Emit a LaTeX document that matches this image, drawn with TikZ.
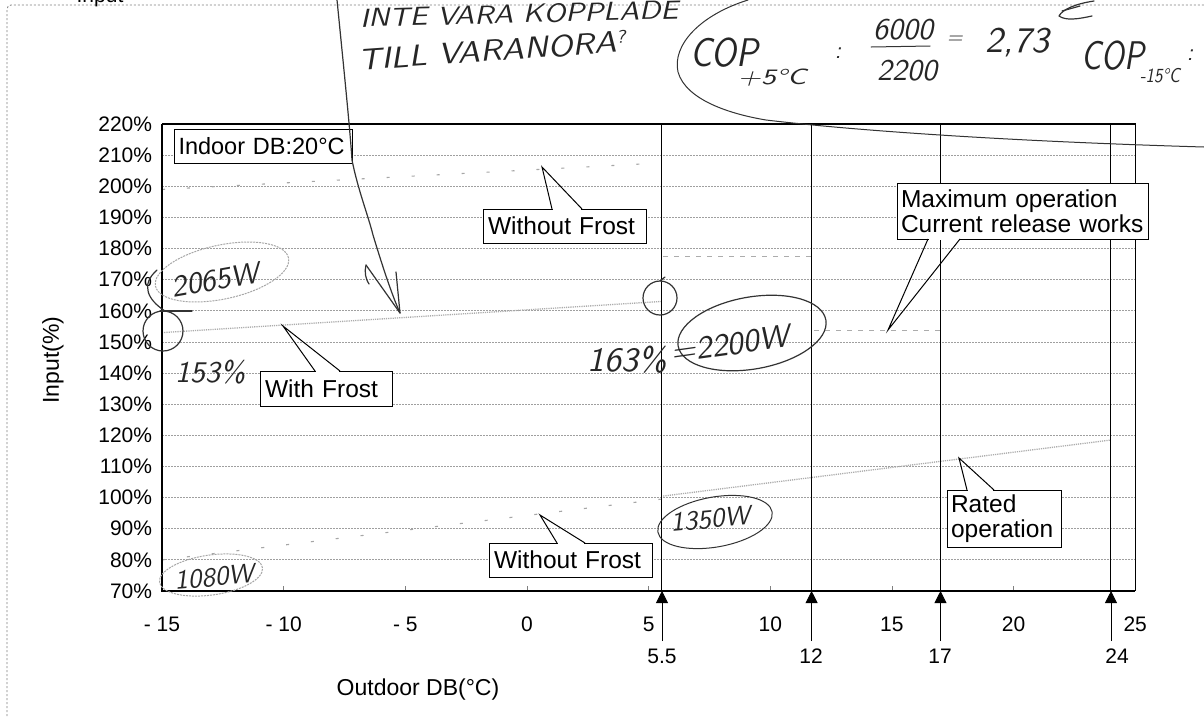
\documentclass[tikz,border=0pt]{standalone}
\usepackage{fontspec}
\usetikzlibrary{arrows.meta}
\newfontfamily\arial{Liberation Sans}
\newfontfamily\hand{lmsans10-oblique.otf}
\begin{document}
\begin{tikzpicture}[x=1pt,y=-1pt,
  grid/.style={gray!75, line width=0.8pt, dash pattern=on 1.5pt off 1.5pt},
  cbox/.style={draw, line width=1pt, fill=white, inner xsep=5pt, inner ysep=0pt, align=left,
    font=\arial\fontsize{24.5}{25}\selectfont},
  axlab/.style={font=\arial\fontsize{21}{24}\selectfont, inner sep=0pt},
  axtitle/.style={font=\arial\fontsize{23}{26}\selectfont, inner sep=0pt},
  pen/.style={line width=1.2pt, black!80, line cap=round, line join=round},
  pencil/.style={line width=1pt, gray!70, dash pattern=on 2pt off 1pt},
  hw/.style={black!85, inner sep=0pt},
  pointer/.style={line width=1pt, line join=miter},
]
\useasboundingbox (0,0) rectangle (1204,716);
\fill[white] (0,0) rectangle (1204,716);
% outer frame of the scanned chart
\draw[gray, dash pattern=on 2pt off 2pt, line width=0.8pt, rounded corners=4pt] (7,716) -- (7,5) -- (1204,5);
\node[axlab, anchor=base] (inputtop) at (100,2) {Input};

% ---------- plot area ----------
\begin{scope}[shift={(162,591)}, x=24.33pt, y=3.113pt]
  \foreach \v in {10,20,...,140} \draw[grid] (0,\v) -- (40,\v);
  \foreach \t in {5,10,...,35} \draw[gray, line width=0.8pt] (\t,0) -- (\t,1.6);
  % curves
  \draw[gray!70, line width=1.1pt, dash pattern=on 3pt off 22pt] (0,129) -- (20.5,137.5);
  \draw[gray!65, line width=1.3pt, dash pattern=on 1.2pt off 1pt] (0,83) -- (20.5,93);
  \draw[gray!70, line width=1.1pt, dash pattern=on 3pt off 22pt] (0,10) -- (20.5,29.5);
  \draw[gray!65, line width=1.3pt, dash pattern=on 1.2pt off 1pt] (20.6,30.5) -- (39,48.5);
  \draw[gray!65, line width=1pt, dash pattern=on 5pt off 6pt] (20.6,107.6) -- (26.7,107.6);
  \draw[gray!65, line width=1pt, dash pattern=on 5pt off 6pt] (26.8,83.8) -- (32,83.8);
  % vertical marker lines
  \foreach \t in {20.53,26.7,32,39} \draw[line width=1.2pt] (\t,0) -- (\t,150);
  % frame
  \draw[line width=1.2pt] (0,150) -- (40,150) -- (40,0);
  \draw[line width=1.8pt] (0,150) -- (0,0) -- (40,0);
  % y labels
  \foreach \v in {70,80,...,220}
    \node[axlab, anchor=east] at (-0.4,\v-70) {\v\%};
\end{scope}

% x tick labels
\foreach \t/\s in {-15/- 15,-10/- 10,-5/- 5,0/0,5/5,10/10,15/15,20/20,25/25}
  \node[axlab] at ({162+(\t+15)*24.33},624) {\s};

% arrows below the axis
\foreach \x/\n/\lx/\k in {662/5.5/662/a, 811.6/12/811/b, 940.5/17/940/c, 1111/24/1117/d}{
  \coordinate (ab\k) at (\x,641);
  \coordinate (at\k) at (\x,591);
  \draw[line width=0.9pt, -{Triangle[width=12pt,length=12pt]}] (ab\k) -- (at\k);
  \node[axlab] (lab\k) at (\lx,656) {\n};
}

% axis titles
\node[axtitle, rotate=90] (ytitle) at (53,360) {Input(\%)};
\node[axtitle] (xtitle) at (418,690) {Outdoor DB(°C)};

% ---------- callouts ----------
\node[cbox, font=\arial\fontsize{23.5}{25}\selectfont, inner xsep=4pt, text width=170pt, minimum height=34pt] (indoor) at (263.5,146) {Indoor DB:20°C};

\node[cbox, text width=153pt, minimum height=34pt] (wfu) at (564.5,226) {Without Frost};
\coordinate (wfutip) at (542,167);
\fill[white] (552.8,208) rectangle (581.2,210.5);
\draw[pointer] (552,209) -- (wfutip) -- (582,209);

\node[cbox, text width=122pt, minimum height=35pt] (wf) at (326,388.5) {With Frost};
\coordinate (wftip) at (283,326);
\fill[white] (315.8,370) rectangle (339.2,372.5);
\draw[pointer] (315,371) -- (wftip) -- (340,371);

\node[cbox, inner xsep=4pt, text width=243pt, minimum height=56pt] (maxop) at (1022.5,211) {Maximum operation\\Current release works};
\coordinate (maxtip) at (888,330);
\fill[white] (928.8,237.5) rectangle (959.2,240);
\draw[pointer] (928,239) -- (maxtip) -- (960,239);

\node[cbox, inner xsep=4pt, text width=106pt, minimum height=57pt] (rated) at (1004,518.5) {Rated\\operation};
\coordinate (ratedtip) at (959,458);
\fill[white] (967.8,489) rectangle (993.2,491.5);
\draw[pointer] (967,490) -- (ratedtip) -- (994,490);

\node[cbox, text width=153pt, minimum height=34pt] (wfl) at (570.5,560) {Without Frost};
\coordinate (wfltip) at (540,515);
\fill[white] (557.8,542) rectangle (584.2,544.5);
\draw[pointer] (557,543) -- (wfltip) -- (585,543);

% ---------- handwritten annotations ----------
% long arrow from the top
\coordinate (hwtop) at (337,0);
\coordinate (hwtip) at (400,313);
\draw[pen] (hwtop) .. controls (345,80) and (350,130) .. (352,160)
  .. controls (358,190) and (368,215) .. (373,235)
  .. controls (383,268) and (392,295) .. (hwtip);
\draw[pen] (366,265) -- (hwtip) -- (396,272);
\draw[pen] (366,265) .. controls (364,272) and (366,280) .. (369,284);

\node[hw, font=\hand\fontsize{26}{26}\selectfont, anchor=west, rotate=1.5, xscale=1.14] (inte) at (360,18) {INTE VARA KOPPLADE};
\node[hw, font=\hand\fontsize{30}{30}\selectfont, anchor=west, rotate=4, xscale=1.12] (till) at (358,60) {TILL VARANORA\raisebox{9pt}{\fontsize{18}{18}\selectfont ?}};

% COP ellipse
\draw[pen, line width=1pt] (748,0) .. controls (700,15) and (672,45) .. (678,72)
  .. controls (686,100) and (730,114) .. (766,120)
  .. controls (850,130) and (1000,141) .. (1204,147);
\node[hw, font=\hand\fontsize{40}{40}\selectfont, anchor=west, xscale=0.85] (cop1) at (690,53) {COP};
\node[hw, font=\hand\fontsize{22}{22}\selectfont, xscale=1.35] (cop1s) at (772,78) {+5°C};
\node[hw, font=\hand\fontsize{24}{24}\selectfont] (colon1) at (838,53) {:};
\node[hw, font=\hand\fontsize{30}{30}\selectfont] (num) at (903,30) {6000};
\draw[pen, line width=1pt] (871,47) -- (930,46);
\node[hw, font=\hand\fontsize{30}{30}\selectfont] (den) at (907,71) {2200};
\node[hw, font=\hand\fontsize{20}{20}\selectfont] (eq) at (955,40) {=};
\node[hw, font=\hand\fontsize{36}{36}\selectfont] (res) at (1017,43) {2,73};
\node[hw, font=\hand\fontsize{40}{40}\selectfont, anchor=west, xscale=0.78] (cop2) at (1081,56) {COP};
\node[hw, font=\hand\fontsize{20}{20}\selectfont, xscale=0.85] (cop2s) at (1160,76) {-15°C};
\node[hw, font=\hand\fontsize{24}{24}\selectfont] (colon2) at (1190,55) {:};
\draw[pen] (1094,1) .. controls (1074,4) and (1062,10) .. (1059,16)
  .. controls (1066,21) and (1078,19) .. (1092,16);
\draw[pen] (1062,11) -- (1080,6);

% 2065W
\draw[pencil, rotate around={12:(222,272)}] (222,272) ellipse [x radius=68pt, y radius=27pt];
\node[hw, font=\hand\fontsize{30}{30}\selectfont, rotate=10] (w2065) at (215,280) {2065W};
\draw[pen] (157,270) .. controls (140,285) and (148,300) .. (165,311);
\draw[pen] (163,331) circle [radius=20pt];
\draw[pen] (160,311) -- (192,311);
\node[hw, font=\hand\fontsize{30}{30}\selectfont] (p153) at (210,372) {153\%};

% 163 % at 5.5
\draw[pen] (660,298) circle [radius=17pt];
\draw[pen] (660,281) -- (665,277);
\node[hw, font=\hand\fontsize{34}{34}\selectfont] (p163) at (627,360) {163\%};

% 2200W
\draw[pen, rotate around={10:(752,333)}] (752,333) ellipse [x radius=75pt, y radius=36pt];
\node[hw, font=\hand\fontsize{32}{32}\selectfont, rotate=8] (w2200) at (730,344) {=2200W};

% 1350W
\draw[pen, line width=1pt, rotate around={10:(715,522)}] (715,522) ellipse [x radius=58pt, y radius=25pt];
\node[hw, font=\hand\fontsize{27}{27}\selectfont, rotate=5] (w1350) at (710,519) {1350W};

% 1080W
\draw[pencil, rotate around={8:(211,575)}] (211,575) ellipse [x radius=52pt, y radius=20pt];
\node[hw, font=\hand\fontsize{27}{27}\selectfont, rotate=5] (w1080) at (214,577) {1080W};
\end{tikzpicture}
\end{document}
